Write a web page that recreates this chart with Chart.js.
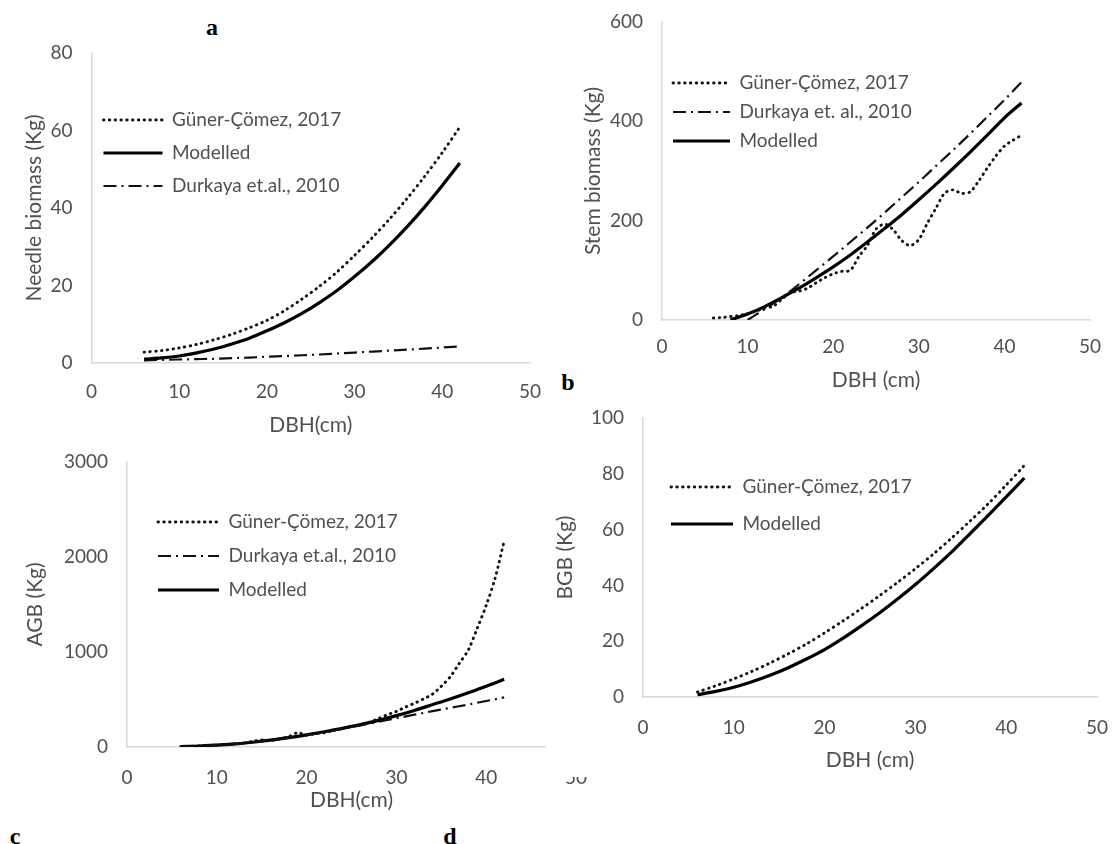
<!DOCTYPE html>
<html><head><meta charset="utf-8">
<script src="https://cdn.jsdelivr.net/npm/chart.js@4.4.0/dist/chart.umd.min.js"></script>
<style>
body{margin:0;background:#fff;width:1112px;height:844px;position:relative;overflow:hidden;}
canvas{position:absolute;}
.lbl{position:absolute;font-family:"Liberation Serif","Times New Roman",serif;font-weight:bold;font-size:24px;color:#000;transform:translate(-50%,-50%);line-height:1;}
</style></head><body>
<canvas id="ca" style="z-index:1"></canvas>
<canvas id="cb" style="z-index:1"></canvas>
<canvas id="cc" style="z-index:1"></canvas>
<canvas id="cd" style="z-index:2;background:#fff"></canvas>
<div class="lbl" style="left:212px;top:27px">a</div>
<div class="lbl" style="left:568px;top:382px">b</div>
<div class="lbl" style="left:15px;top:836px">c</div>
<div class="lbl" style="left:450px;top:836px">d</div>
<script>
// ---------- DATA ----------
const dbh2 = [6,8,10,12,14,16,18,20,22,24,26,28,30,32,34,36,38,40,42];
const dbh1 = [6,7,8,9,10,11,12,13,14,15,16,17,18,19,20,21,22,23,24,25,26,27,28,29,30,31,32,33,34,35,36,37,38,39,40,41,42];
const dbhStemModel = [8,10,12,14,16,18,20,22,24,26,28,30,32,34,36,38,40,42];
const dbhStemDurk = [10,12,14,16,18,20,22,24,26,28,30,32,34,36,38,40,42];
const xTicks = [0,10,20,30,40,50];

// a: needle biomass
const needleGuner    = [2.8,3.2,3.9,4.8,6.0,7.4,9.1,11.0,13.5,16.5,19.8,23.5,27.8,32.3,37.2,42.5,48.2,54.3,60.9];
const needleModelled = [1.0,1.3,1.8,2.6,3.6,4.9,6.4,8.3,10.4,12.8,15.6,18.7,22.3,26.2,30.5,35.2,40.3,45.8,51.6];
const needleDurkaya  = [0.7,0.8,0.9,1.0,1.1,1.25,1.4,1.6,1.8,2.0,2.2,2.45,2.7,2.95,3.2,3.45,3.7,4.0,4.3];

// b: stem biomass
const stemGuner    = [4,5,7,9,13,18,24,28,42,55,58,64,75,85,93,98,100,128,150,183,193,182,160,150,162,195,225,255,262,255,258,280,306,330,350,362,372];
const stemDurkaya  = [0,22,45,72,100,128,157,186,216,247,278,310,342,375,409,443,479];
const stemModelled = [0,12,27,45,64,85,107,131,157,184,212,242,273,305,338,372,407,437];

// c: AGB
const agbGuner    = [5,7,10,14,20,25,32,42,60,75,68,85,110,150,125,140,150,175,195,215,235,262,300,340,375,420,460,505,555,640,740,880,1020,1250,1490,1780,2168];
const agbDurkaya  = [5,10,20,32,50,72,98,127,158,192,228,265,303,340,377,412,447,484,522];
const agbModelled = [5,10,20,32,50,72,98,128,160,196,235,280,330,385,445,505,570,640,712];

// d: BGB
const bgbGuner    = [1.8,4.0,6.5,9.2,12.2,15.5,19.0,23.0,27.2,31.6,36.2,41.0,46.0,51.3,57.0,63.0,69.2,76.0,83.0];
const bgbModelled = [0.8,2.0,3.5,5.5,7.8,10.5,13.6,17.0,21.0,25.4,30.0,35.0,40.3,46.0,52.0,58.5,65.0,71.7,78.5];

// ---------- STYLES ----------
const FONT = 'Lato, "Open Sans", "DejaVu Sans", sans-serif';
const TXT = '#505050';
const AX = '#d9d9d9';
const FS = 19;   // ticks & legend
const TFS = 21;  // axis titles
const pts = (xs, ys) => xs.map((x, i) => ({x: x, y: ys[i]}));
const dotted = {borderColor:'#111', borderWidth:2.9, borderDash:[0.5,5.3], borderCapStyle:'round', tension:0.3};
const solid  = {borderColor:'#000', borderWidth:3.2, borderDash:[], borderCapStyle:'butt', cubicInterpolationMode:'monotone'};
const dashdot= {borderColor:'#111', borderWidth:2.2, borderDash:[13,5,2,5], borderCapStyle:'butt', cubicInterpolationMode:'monotone'};
function ds(label, data, st){ return Object.assign({label, data, pointRadius:0, fill:false}, st); }

const legendShift = {
  id:'legendShift',
  afterLayout(chart, args, o){
    const lg = chart.legend, ca = chart.chartArea; if(!lg) return;
    const p = o.pad, fs = o.fs;
    const w = lg.width, h = lg.height;
    lg.left = ca.left + o.dx - p; lg.top = ca.top + o.dy - fs/2 - p;
    lg.right = lg.left + w; lg.bottom = lg.top + h;
  }
};

// rect: canvas [left, top, w, h]; area: plot area [L,T,R,B]; yTitleX / xTitleY: centre of axis titles
function panel(id, rect, area, yTitleX, xTitleY, xLabelY, yMax, yStep, xTitle, yTitle, datasets, lgd){
  const cv = document.getElementById(id);
  cv.width = rect[2]; cv.height = rect[3];
  cv.style.left = rect[0]+'px'; cv.style.top = rect[1]+'px';
  const half = TFS*0.6;
  const Wy = area[0] - yTitleX + half;
  const Hx = xTitleY - area[3] + half;
  const xPad = xLabelY - area[3] - FS*0.6;
  const pad = {
    left: area[0]-rect[0]-Wy,
    top: area[1]-rect[1],
    right: rect[0]+rect[2]-area[2],
    bottom: rect[1]+rect[3]-area[3]-Hx
  };
  const lgPad = lgd.spacing - FS;
  new Chart(cv, {
    type:'line',
    data:{datasets},
    plugins:[legendShift],
    options:{
      responsive:false, animation:false, devicePixelRatio:1,
      layout:{padding:pad},
      plugins:{
        tooltip:{enabled:false},
        legendShift:{dx:lgd.dx, dy:lgd.dy, pad:lgPad, fs:FS},
        legend:{
          position:'chartArea', align:'start',
          labels:{
            usePointStyle:true, pointStyleWidth:lgd.len, boxHeight:FS, padding:lgPad,
            font:{family:FONT, size:FS}, color:TXT,
            generateLabels:(ch)=>ch.data.datasets.map((d,i)=>({
              text:d.label, fillStyle:'rgba(0,0,0,0)', strokeStyle:d.borderColor,
              lineWidth:d.borderWidth, lineDash:d.borderDash, lineCap:d.borderCapStyle,
              pointStyle:'line', hidden:false, datasetIndex:i, fontColor:TXT
            }))
          }
        }
      },
      scales:{
        x:{type:'linear', min:0, max:50,
          afterBuildTicks:(s)=>{ s.ticks = xTicks.map(v=>({value:v})); },
          afterFit:(s)=>{ s.height = Hx; s.paddingLeft = 0; s.paddingRight = 0; },
          grid:{display:true, drawOnChartArea:false, drawTicks:false},
          border:{display:true, color:AX, width:1.5},
          ticks:{padding:xPad, color:TXT, font:{family:FONT, size:FS}, maxRotation:0, callback:(v)=>String(v)},
          title:{display:true, text:xTitle, color:TXT, font:{family:FONT, size:TFS}, padding:0}
        },
        y:{min:0, max:yMax,
          ticks:{stepSize:yStep, padding:19, color:TXT, font:{family:FONT, size:FS}, callback:(v)=>String(v)},
          afterFit:(s)=>{ s.width = Wy; s.paddingTop = 0; s.paddingBottom = 0; },
          grid:{display:true, drawOnChartArea:false, drawTicks:false},
          border:{display:true, color:AX, width:1.5},
          title:{display:true, text:yTitle, color:TXT, font:{family:FONT, size:TFS}, padding:0}
        }
      }
    }
  });
}

panel('ca', [0,38,556,402], [91.5,53,530,363], 34, 425, 392, 80, 20, 'DBH(cm)', 'Needle biomass (Kg)', [
  ds('Güner-Çömez, 2017', pts(dbh2, needleGuner), dotted),
  ds('Modelled', pts(dbh2, needleModelled), solid),
  ds('Durkaya et.al., 2010', pts(dbh2, needleDurkaya), dashdot)
], {dx:12, dy:67, spacing:33, len:59});

panel('cb', [556,8,556,392], [662,22,1090,320], 593, 380, 347, 600, 200, 'DBH (cm)', 'Stem biomass (Kg)', [
  ds('Güner-Çömez, 2017', pts(dbh1, stemGuner), dotted),
  ds('Durkaya et. al., 2010', pts(dbhStemDurk, stemDurkaya), dashdot),
  ds('Modelled', pts(dbhStemModel, stemModelled), solid)
], {dx:11, dy:61, spacing:29, len:57});

panel('cc', [0,440,600,380], [127,462,576,747], 35, 800, 778, 3000, 1000, 'DBH(cm)', 'AGB (Kg)', [
  ds('Güner-Çömez, 2017', pts(dbh1, agbGuner), dotted),
  ds('Durkaya et.al., 2010', pts(dbh2, agbDurkaya), dashdot),
  ds('Modelled', pts(dbh2, agbModelled), solid)
], {dx:31, dy:60, spacing:34, len:61});

panel('cd', [546,402,566,375], [643,418,1097,697], 565, 760, 728, 100, 20, 'DBH (cm)', 'BGB (Kg)', [
  ds('Güner-Çömez, 2017', pts(dbh2, bgbGuner), dotted),
  ds('Modelled', pts(dbh2, bgbModelled), solid)
], {dx:28, dy:69, spacing:37, len:62});
</script>
</body></html>
